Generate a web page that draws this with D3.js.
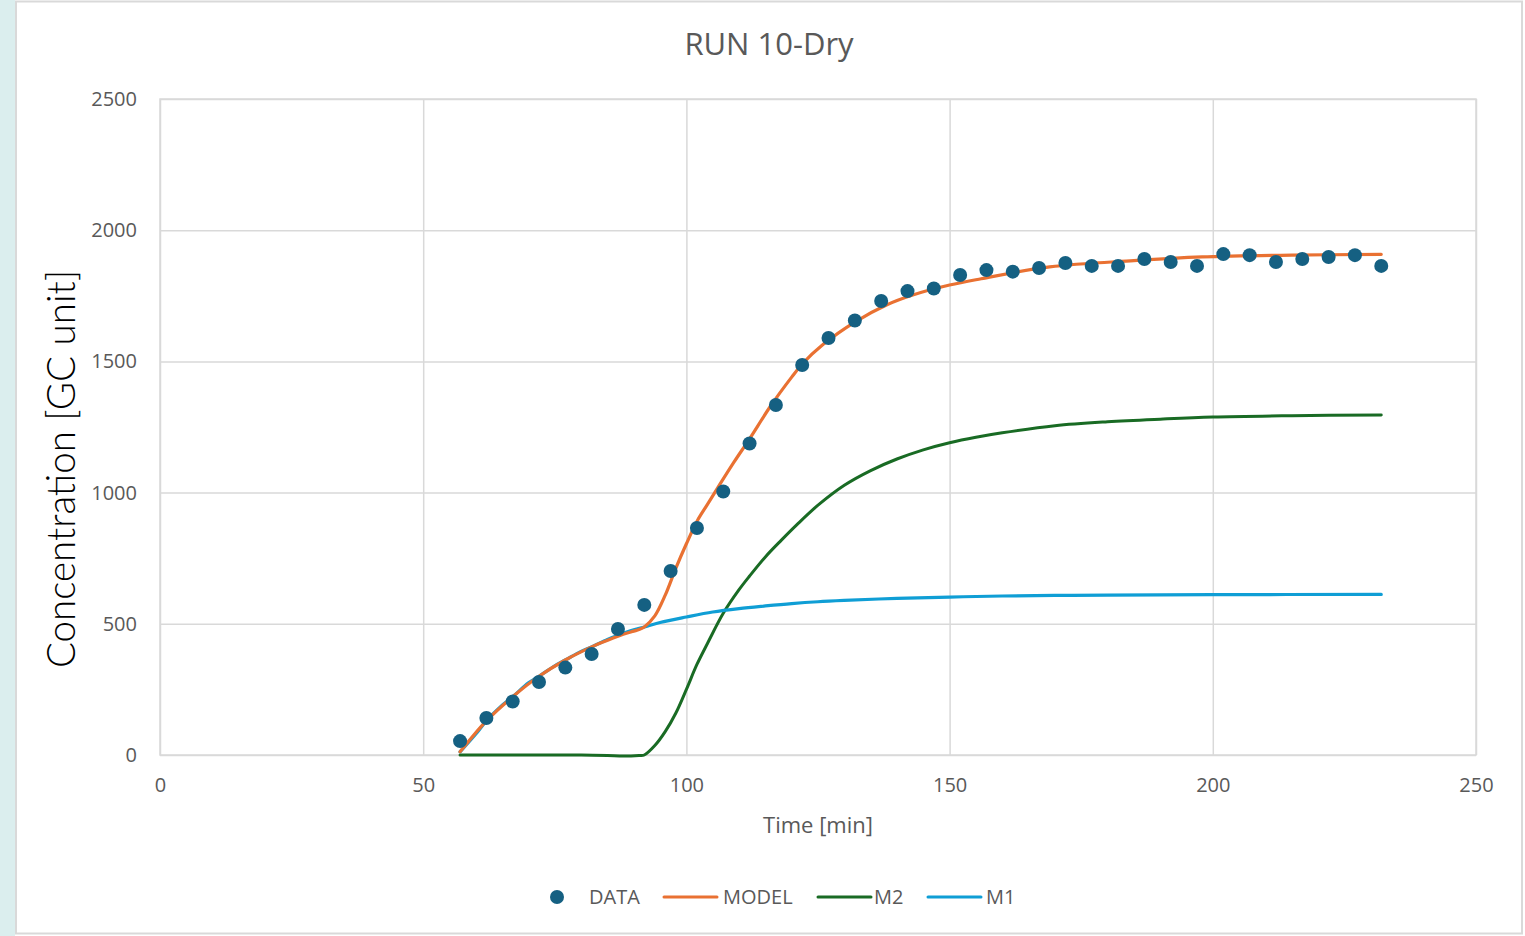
<!DOCTYPE html>
<meta charset="utf-8">
<title>RUN 10-Dry</title>
<script src="https://d3js.org/d3.v7.min.js"></script>
<style>
body {
  margin: 0;
  background: #fff;
  font-family: "Open Sans", sans-serif;
}
.tick text {
  fill: #595959;
  font-size: 20px;
  font-family: "Open Sans", sans-serif;
}
.grid line {
  stroke: #d9d9d9;
  stroke-width: 1.5px;
}
</style>
<body>
<svg id="chart" width="1525" height="936"></svg>
<script>

// DATA dots: time [min] and concentration
var dataTime = [57, 62, 67, 72, 77, 82, 87, 92, 97, 102, 107, 112, 117, 122, 127, 132, 137, 142,
  147, 152, 157, 162, 167, 172, 177, 182, 187, 192, 197, 202, 207, 212, 217, 222, 227, 232];
var dataConc = [53, 141, 204, 278, 333, 385, 480, 572, 701, 865, 1004, 1187, 1334, 1486, 1589, 1656, 1730, 1768,
  1778, 1829, 1848, 1842, 1856, 1875, 1864, 1864, 1890, 1879, 1864, 1909, 1905, 1879, 1890, 1898, 1905, 1864];

// M1 curve
var m1Time = [57, 60, 62, 65, 67, 70, 72, 75, 77, 80, 82, 85, 87, 90, 92, 95, 100, 105, 110, 115,
  120, 125, 130, 140, 150, 160, 170, 180, 200, 232];
var m1Conc = [12, 80, 130, 190, 222, 275, 300, 340, 362, 395, 412, 440, 456, 477, 488, 505, 526, 545, 558, 568,
  577, 584, 589, 597, 602, 606, 608, 609, 611, 612];

// M2 curve
var m2Time = [57, 70, 80, 85, 88, 91, 92, 94, 96, 98, 100, 102, 104, 107, 110, 112, 115, 118, 121, 125,
  130, 135, 140, 145, 150, 155, 160, 170, 180, 190, 200, 215, 232];
var m2Conc = [0, 0, 0, -2, -4, -2, 0, 36, 90, 160, 250, 345, 425, 540, 630, 682, 755, 818, 878, 952,
  1028, 1084, 1128, 1163, 1190, 1211, 1228, 1255, 1270, 1280, 1288, 1293, 1296];

// MODEL curve
var modelTime = [57, 62, 67, 72, 77, 82, 85, 88, 90, 91, 92, 94, 96, 98, 100, 102, 104, 106, 109, 112,
  116, 120, 122, 126, 132, 138, 143, 150, 156, 169, 185, 198, 215, 232];
var modelConc = [12, 130, 222, 300, 362, 412, 437, 460, 472, 478, 488, 530, 610, 712, 805, 890, 955, 1020, 1115, 1205,
  1330, 1440, 1490, 1565, 1650, 1715, 1753, 1791, 1815, 1860, 1884, 1898, 1905, 1908];

var xTicks = [0, 50, 100, 150, 200, 250];
var yTicks = [0, 500, 1000, 1500, 2000, 2500];

var seriesNames = ["DATA", "MODEL", "M2", "M1"];
var seriesColors = ["#156082", "#e97132", "#196b24", "#0f9ed5"];

var svg = d3.select("#chart");

// outer frame
svg.append("rect").attr("x", 0).attr("y", 0).attr("width", 15).attr("height", 936).attr("fill", "#dbeeee");
svg.append("rect").attr("x", 16).attr("y", 1.5).attr("width", 1506).attr("height", 932)
  .attr("fill", "#fff").attr("stroke", "#d9d9d9").attr("stroke-width", 2);

var plotLeft = 160, plotRight = 1476, plotTop = 99, plotBottom = 755;

var x = d3.scaleLinear().domain([0, 250]).range([plotLeft, plotRight]);
var y = d3.scaleLinear().domain([0, 2500]).range([plotBottom, plotTop]);

// grid
svg.append("g").attr("class", "grid")
  .attr("transform", "translate(0," + plotBottom + ")")
  .call(d3.axisBottom(x).tickValues(xTicks).tickSize(-(plotBottom - plotTop)).tickFormat(""))
  .call(function(g) { g.select(".domain").remove(); });
svg.append("g").attr("class", "grid")
  .attr("transform", "translate(" + plotLeft + ",0)")
  .call(d3.axisLeft(y).tickValues(yTicks).tickSize(-(plotRight - plotLeft)).tickFormat(""))
  .call(function(g) { g.select(".domain").remove(); });

svg.append("rect").attr("x", plotLeft).attr("y", plotTop)
  .attr("width", plotRight - plotLeft).attr("height", plotBottom - plotTop)
  .attr("fill", "none").attr("stroke", "#d9d9d9").attr("stroke-width", 1.5);

// axis labels
svg.append("g")
  .attr("transform", "translate(0," + plotBottom + ")")
  .call(d3.axisBottom(x).tickValues(xTicks).tickSize(0).tickPadding(23).tickFormat(d3.format("d")))
  .call(function(g) { g.select(".domain").remove(); });
svg.append("g")
  .attr("transform", "translate(" + plotLeft + ",0)")
  .call(d3.axisLeft(y).tickValues(yTicks).tickSize(0).tickPadding(23).tickFormat(d3.format("d")))
  .call(function(g) { g.select(".domain").remove(); });

// titles
svg.append("text").attr("x", 769).attr("y", 55)
  .attr("text-anchor", "middle").attr("fill", "#595959")
  .style("font-size", "31px").text("RUN 10-Dry");

svg.append("text").attr("x", 818).attr("y", 833)
  .attr("text-anchor", "middle").attr("fill", "#595959")
  .style("font-size", "22px").text("Time [min]");

svg.append("text")
  .attr("transform", "translate(75,469) rotate(-90)")
  .attr("text-anchor", "middle").attr("fill", "#000")
  .style("font-family", "Lato, sans-serif").style("font-weight", 300)
  .style("font-size", "38.5px").text("Concentration [GC unit]");

// lines
var line = d3.line()
  .x(function(d) { return x(d[0]); })
  .y(function(d) { return y(d[1]); })
  .curve(d3.curveCatmullRom.alpha(0.5));

function pairs(t, v) { return t.map(function(d, i) { return [d, v[i]]; }); }

svg.append("path").datum(pairs(m2Time, m2Conc))
  .attr("d", line).attr("fill", "none")
  .attr("stroke", seriesColors[2]).attr("stroke-width", 3).attr("stroke-linecap", "round");
svg.append("path").datum(pairs(m1Time, m1Conc))
  .attr("d", line).attr("fill", "none")
  .attr("stroke", seriesColors[3]).attr("stroke-width", 3.2).attr("stroke-linecap", "round");
svg.append("path").datum(pairs(modelTime, modelConc))
  .attr("d", line).attr("fill", "none")
  .attr("stroke", seriesColors[1]).attr("stroke-width", 3.2).attr("stroke-linecap", "round");

svg.append("g").selectAll("circle")
  .data(pairs(dataTime, dataConc))
  .enter().append("circle")
  .attr("cx", function(d) { return x(d[0]); })
  .attr("cy", function(d) { return y(d[1]); })
  .attr("r", 7)
  .attr("fill", seriesColors[0]);

// legend
var legendY = 897;
var lg = svg.append("g").style("font-size", "20px").attr("fill", "#595959");
lg.append("circle").attr("cx", 557).attr("cy", legendY).attr("r", 7).attr("fill", seriesColors[0]);
lg.append("text").attr("x", 589).attr("y", legendY + 7).text(seriesNames[0]);
var legendLines = [[664, 717, 723], [818, 871, 874], [928, 981, 986]];
legendLines.forEach(function(p, i) {
  lg.append("line").attr("x1", p[0]).attr("x2", p[1]).attr("y1", legendY).attr("y2", legendY)
    .attr("stroke", seriesColors[i + 1]).attr("stroke-width", 3).attr("stroke-linecap", "round");
  lg.append("text").attr("x", p[2]).attr("y", legendY + 7).text(seriesNames[i + 1]);
});

</script>
</body>
